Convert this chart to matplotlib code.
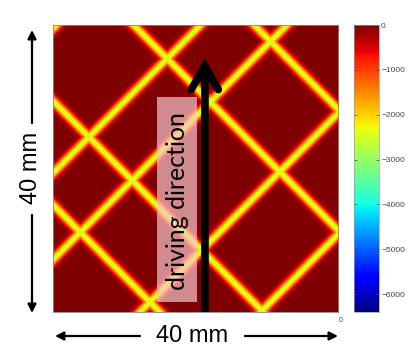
import numpy as np
import matplotlib
matplotlib.use("Agg")
import matplotlib.pyplot as plt
from matplotlib.patches import Rectangle

# crack lines in the 40 x 40 mm field, y = x + c  and  y = -x + c
slash_intercepts = [39.6, 19.4, 7.3, -12.2, -29.1]
backslash_intercepts = [14.9, 29.4, 51.3, 68.2]
line_peak = -2500
line_width = 0.65

cbar_ticks = [0, -1000, -2000, -3000, -4000, -5000, -6000]
vmin, vmax = -6400, 0

side = 40.0
n = 500
xs = np.linspace(0, side, n)
X, Y = np.meshgrid(xs, xs)

dist = np.full(X.shape, 1e9)
for c in slash_intercepts:
    dist = np.minimum(dist, np.abs(Y - X - c) / np.sqrt(2))
for c in backslash_intercepts:
    dist = np.minimum(dist, np.abs(Y + X - c) / np.sqrt(2))
field = line_peak * np.exp(-(dist / line_width) ** 2)

fig = plt.figure(figsize=(4.19, 3.60), dpi=100)
ax = fig.add_axes([53/419, 48/360, 285/419, 287/360])
cax = fig.add_axes([354/419, 48/360, 25/419, 287/360])

im = ax.imshow(field, cmap="jet", vmin=vmin, vmax=vmax, origin="lower",
               extent=[0, side, 0, side], interpolation="bilinear", aspect="auto")
ax.set_xticks([])
ax.set_yticks([])
for s in ax.spines.values():
    s.set_color("#888888")
    s.set_linewidth(0.6)

# label box and driving arrow
ax.add_patch(Rectangle((14.6, 1.4), 5.6, 28.6, facecolor="#f5c6cc", alpha=0.7,
                       edgecolor="none"))
ax.text(17.5, 15.4, "driving direction", rotation=90, ha="center", va="center",
        fontsize=18, family="Lato", color="black")
ax_x = 21.3
tip = 34.3
ax.plot([ax_x, ax_x], [0, tip - 0.3], color="black", lw=5.5, solid_capstyle="butt")
ax.plot([ax_x - 1.9, ax_x, ax_x + 1.9], [tip - 3.3, tip, tip - 3.3], color="black",
        lw=5.5, solid_capstyle="round", solid_joinstyle="miter")
ax.set_xlim(0, side)
ax.set_ylim(0, side)

cb = fig.colorbar(im, cax=cax, ticks=cbar_ticks)
cb.outline.set_edgecolor("#999999")
cb.outline.set_linewidth(0.5)
cax.tick_params(labelsize=6, length=2, width=0.5, direction="in", pad=1.5,
                colors="#444444", left=True)
for t in cax.get_yticklabels():
    t.set_family("Liberation Sans")

fig.text(341/419, 1 - 321/360, "0", fontsize=5, ha="center", va="center",
         color="#444444", family="Liberation Sans")

# 40 mm dimension labels
arr = dict(arrowstyle="-|>,head_length=0.5,head_width=0.25", color="black", lw=1.6,
           shrinkA=0, shrinkB=0)
fig.text(192/419, 1 - 336/360, "40 mm", fontsize=17, ha="center", va="center",
         family="Liberation Sans")
ax.annotate("", xy=(55, 24), xytext=(140, 24), xycoords="figure pixels",
            textcoords="figure pixels", arrowprops=arr)
ax.annotate("", xy=(338, 24), xytext=(245, 24), xycoords="figure pixels",
            textcoords="figure pixels", arrowprops=arr)

fig.text(31/419, 1 - 168/360, "40 mm", fontsize=17, ha="center", va="center",
         rotation=90, family="Liberation Sans")
ax.annotate("", xy=(32, 330), xytext=(32, 237), xycoords="figure pixels",
            textcoords="figure pixels", arrowprops=arr)
ax.annotate("", xy=(32, 47), xytext=(32, 145), xycoords="figure pixels",
            textcoords="figure pixels", arrowprops=arr)

fig.savefig("out.png", dpi=100)
